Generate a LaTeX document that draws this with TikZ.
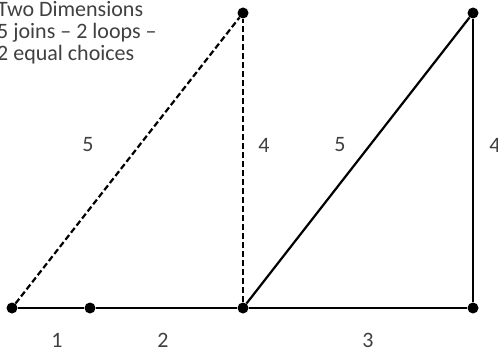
\documentclass[tikz,border=0pt]{standalone}
\usepackage{fontspec}
\setmainfont{Carlito}
\usepackage{tikz}
\usetikzlibrary{positioning}
\definecolor{textgray}{RGB}{64,64,64}

\begin{document}
\begin{tikzpicture}[x=1pt, y=1pt,
        dot/.style={circle, fill=black, inner sep=0pt, minimum size=11pt},
        edge/.style={line width=2.2pt, black},
        dashededge/.style={edge, dash pattern=on 6pt off 3pt},
        lbl/.style={text=textgray, font=\fontsize{22}{22}\selectfont, inner sep=0pt}
    ]
    \useasboundingbox (0,0) rectangle (498,354);
    % corners of the two triangles
    \node[dot] (a) at (12,46) {};
    \node[dot] (b) at (90,46) {};
    \node[dot] (c) at (243,46) {};
    \node[dot] (d) at (473,46) {};
    \node[dot] (e) at (243,341) {};
    \node[dot] (f) at (473,341) {};
    % joins
    \draw[edge] (a) -- (b);
    \draw[edge] (b) -- (c);
    \draw[edge] (c) -- (d);
    \draw[dashededge] (a) -- (e);
    \draw[dashededge] (c) -- (e);
    \draw[edge] (c) -- (f);
    \draw[edge] (d) -- (f);
    % lengths
    \node[lbl] (l1) at (57,14) {1};
    \node[lbl] (l2) at (163,14) {2};
    \node[lbl] (l3) at (368,14) {3};
    \node[lbl] (l5a) at (88,209) {5};
    \node[lbl] (l4a) at (264,209) {4};
    \node[lbl] (l5b) at (340,209) {5};
    \node[lbl] (l4b) at (495,209) {4};
    \node[lbl, anchor=base west, align=left] (title) at (-3,293) {Two Dimensions\\5 joins -- 2 loops --\\2 equal choices};
\end{tikzpicture}
\end{document}
